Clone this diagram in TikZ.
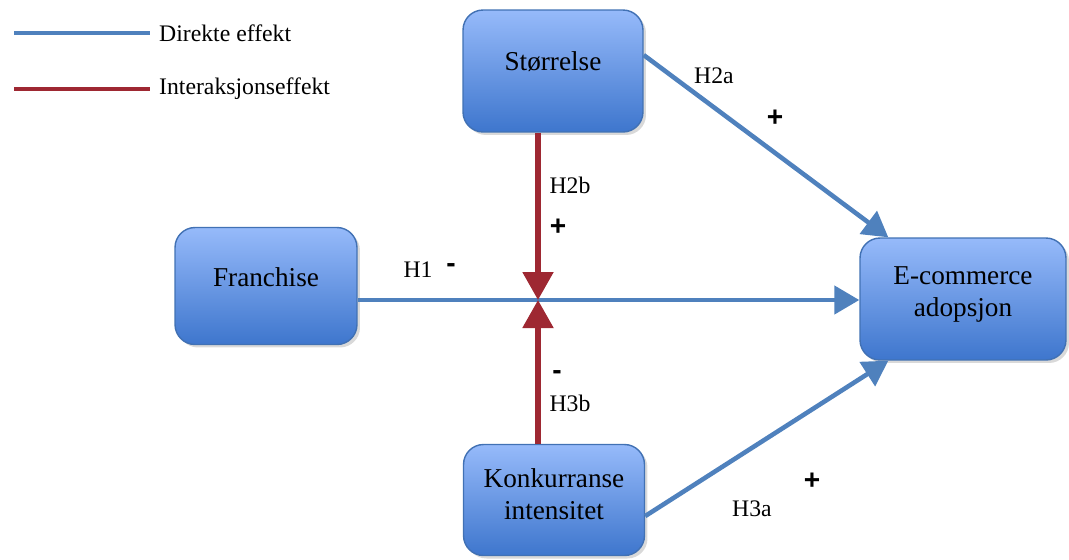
\documentclass[tikz,border=0pt]{standalone}
\usepackage{fontspec}
\setmainfont{Liberation Serif}
\newfontfamily\tegnfont{Liberation Sans}
\usepackage{tikz}
\usetikzlibrary{arrows.meta,shadows}
\definecolor{linjeblaa}{RGB}{79,129,189}
\definecolor{linjerod}{RGB}{158,40,50}
\definecolor{bokstopp}{RGB}{150,186,250}
\definecolor{boksbunn}{RGB}{62,118,205}
\definecolor{boksramme}{RGB}{65,113,180}
\tikzset{
  boks/.style={rectangle,rounded corners=0.4cm,draw=boksramme,line width=0.8pt,
    top color=bokstopp,bottom color=boksbunn,align=center,
    font=\fontsize{15.5}{18}\selectfont,
    drop shadow={shadow xshift=0.06cm,shadow yshift=-0.06cm,opacity=0.3}},
  merke/.style={font=\fontsize{13.5}{15}\selectfont},
  tegn/.style={font=\tegnfont\bfseries\fontsize{16}{16}\selectfont},
  direkte/.style={draw=linjeblaa,line width=2.6pt,-{Triangle[length=0.5cm,width=0.56cm]}},
  samspill/.style={draw=linjerod,line width=3pt,-{Triangle[length=0.56cm,width=0.6cm]}}
}

\begin{document}
\begin{tikzpicture}[x=0.02cm,y=-0.02cm]
\useasboundingbox (0,0) rectangle (1069,559);
% legend
\coordinate (la) at (14,33);
\coordinate (lb) at (150,33);
\coordinate (lc) at (14,89);
\coordinate (ld) at (150,89);
\draw[linjeblaa,line width=2.8pt] (la) -- (lb);
\draw[linjerod,line width=2.8pt] (lc) -- (ld);
\node[merke,anchor=west] (ltxt1) at (153,33) {Direkte effekt};
\node[merke,anchor=west] (ltxt2) at (153,89) {Interaksjonseffekt};
% boxes
\node[boks,minimum width=3.6cm,minimum height=2.44cm,text depth=0.41cm] (st) at (553,71) {Størrelse};
\node[boks,minimum width=3.64cm,minimum height=2.34cm,text depth=0.37cm] (fr) at (266,286) {Franchise};
\node[boks,minimum width=3.62cm,minimum height=2.22cm,text depth=0.25cm] (ko) at (554,500) {Konkurranse\\intensitet};
\node[boks,minimum width=4.12cm,minimum height=2.44cm,text depth=0.3cm] (ec) at (963,299) {E-commerce\\adopsjon};
\coordinate (hub) at (538,300);
% connectors
\draw[direkte] (fr.east |- hub) -- (ec.west |- hub);
\draw[samspill] (st.south -| hub) -- (hub);
\draw[samspill] (ko.north -| hub) -- (hub);
\draw[direkte] (st.10) -- ([xshift=0.58cm]ec.north west);
\draw[direkte] (ko.-10) -- ([xshift=0.58cm]ec.south west);
% labels
\node[merke] (h2a) at (714,76) {H2a};
\node[tegn] (p2a) at (775,118) {+};
\node[merke] (h2b) at (570,185) {H2b};
\node[tegn] (p2b) at (558,227) {+};
\node[merke] (h1) at (418,270) {H1};
\node[tegn] (m1) at (451,268) {-};
\node[tegn] (m3b) at (557,375) {-};
\node[merke] (h3b) at (570,403) {H3b};
\node[tegn] (p3a) at (812,481) {+};
\node[merke] (h3a) at (752,509) {H3a};
\end{tikzpicture}
\end{document}
